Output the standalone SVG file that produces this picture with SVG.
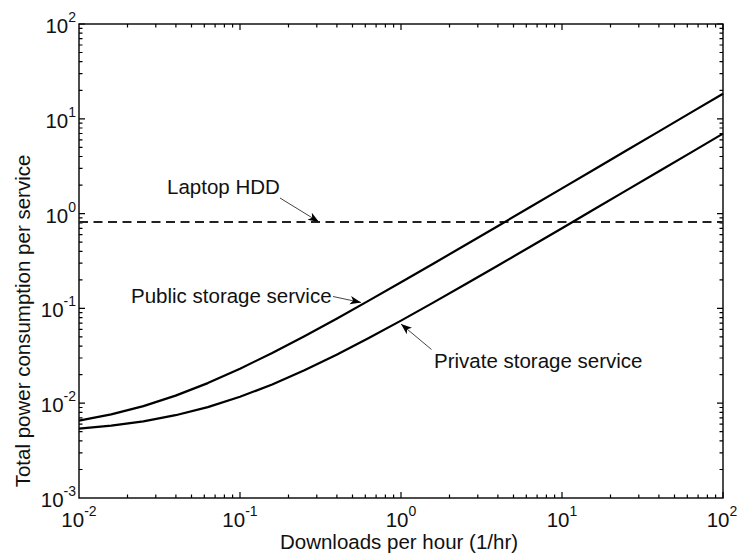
<svg xmlns="http://www.w3.org/2000/svg" xmlns:xlink="http://www.w3.org/1999/xlink" width="744" height="556" viewBox="0 0 744 556">
<style>
text{font-family:"Liberation Sans",Arial,Helvetica,sans-serif;font-size:20.5px;fill:#111}
.sup{font-size:14px}
.tick{stroke:#000;stroke-width:1.2;fill:none}
.axis{stroke:#000;stroke-width:1.4;fill:none}
.curve{stroke:#000;stroke-width:2.2;fill:none;stroke-linejoin:round}
.dash{stroke:#222;stroke-width:2.2;fill:none;stroke-dasharray:9 5.5}
.ann{stroke:#444;stroke-width:1;fill:none}
</style>
<defs>
<marker id="ah" markerWidth="12" markerHeight="10" refX="11" refY="5" orient="auto" markerUnits="userSpaceOnUse">
<path d="M0,0.8 L11,5 L0,9.2 L3,5 Z" fill="#000"/>
</marker>
<path id="xdec" d="M48.5,0v-3.5M76.8,0v-3.5M96.9,0v-3.5M112.5,0v-3.5M125.3,0v-3.5M136.1,0v-3.5M145.4,0v-3.5M153.6,0v-3.5M161,0v-6"/>
<path id="ydec" d="M0,-28.5h3.5M0,-45.2h3.5M0,-57.1h3.5M0,-66.3h3.5M0,-73.8h3.5M0,-80.1h3.5M0,-85.6h3.5M0,-90.5h3.5M0,-94.8h6"/>
</defs>
<rect width="744" height="556" fill="#fff"/>
<g id="axes">
<rect class="axis" x="79" y="24" width="644" height="474"/>
<g class="tick">
<use xlink:href="#xdec" transform="translate(79,498)"/>
<use xlink:href="#xdec" transform="translate(240,498)"/>
<use xlink:href="#xdec" transform="translate(401,498)"/>
<use xlink:href="#xdec" transform="translate(562,498)"/>
<use xlink:href="#xdec" transform="translate(79,24) scale(1,-1)"/>
<use xlink:href="#xdec" transform="translate(240,24) scale(1,-1)"/>
<use xlink:href="#xdec" transform="translate(401,24) scale(1,-1)"/>
<use xlink:href="#xdec" transform="translate(562,24) scale(1,-1)"/>
<use xlink:href="#ydec" transform="translate(79,498)"/>
<use xlink:href="#ydec" transform="translate(79,403.2)"/>
<use xlink:href="#ydec" transform="translate(79,308.4)"/>
<use xlink:href="#ydec" transform="translate(79,213.6)"/>
<use xlink:href="#ydec" transform="translate(79,118.8)"/>
<use xlink:href="#ydec" transform="translate(723,498) scale(-1,1)"/>
<use xlink:href="#ydec" transform="translate(723,403.2) scale(-1,1)"/>
<use xlink:href="#ydec" transform="translate(723,308.4) scale(-1,1)"/>
<use xlink:href="#ydec" transform="translate(723,213.6) scale(-1,1)"/>
<use xlink:href="#ydec" transform="translate(723,118.8) scale(-1,1)"/>
</g>
</g>
<g id="y-tick-labels" text-anchor="end">
<text x="76" y="33">10<tspan class="sup" dy="-11">2</tspan></text>
<text x="76" y="127.8">10<tspan class="sup" dy="-11">1</tspan></text>
<text x="76" y="222.6">10<tspan class="sup" dy="-11">0</tspan></text>
<text x="76" y="317.4">10<tspan class="sup" dy="-11">-1</tspan></text>
<text x="76" y="412.2">10<tspan class="sup" dy="-11">-2</tspan></text>
<text x="76" y="507">10<tspan class="sup" dy="-11">-3</tspan></text>
</g>
<g id="x-tick-labels" text-anchor="middle">
<text x="79" y="527">10<tspan class="sup" dy="-11">-2</tspan></text>
<text x="240" y="527">10<tspan class="sup" dy="-11">-1</tspan></text>
<text x="401" y="527">10<tspan class="sup" dy="-11">0</tspan></text>
<text x="562" y="527">10<tspan class="sup" dy="-11">1</tspan></text>
<text x="722" y="527">10<tspan class="sup" dy="-11">2</tspan></text>
</g>
<g id="axis-labels">
<text x="399" y="549" text-anchor="middle">Downloads per hour (1/hr)</text>
<text transform="translate(30,321) rotate(-90)" text-anchor="middle">Total power consumption per service</text>
</g>
<g id="series">
<path id="laptop-hdd" class="dash" d="M79,222H723"/>
<path id="public-storage" class="curve" d="M79,420.7L111.2,414.4L143.4,406.1L175.6,395.6L207.8,383.1L240,368.7L272.2,353.0L304.4,336.2L336.6,318.7L368.8,300.6L401,282.3L433.2,263.7L465.4,245.0L497.6,226.2L529.8,207.3L562,188.4L594.2,169.5L626.4,150.5L658.6,131.6L690.8,112.6L723,93.7"/>
<path id="private-storage" class="curve" d="M79,428.6L111.2,425.6L143.4,421.3L175.6,415.2L207.8,407.1L240,396.8L272.2,384.5L304.4,370.3L336.6,354.7L368.8,338.0L401,320.6L433.2,302.6L465.4,284.2L497.6,265.7L529.8,247.0L562,228.2L594.2,209.3L626.4,190.4L658.6,171.5L690.8,152.6L723,133.6"/>
</g>
<g id="annotations">
<g id="label-laptop">
<text x="167" y="194">Laptop HDD</text>
</g>
<g id="label-public">
<text x="131" y="303">Public storage service</text>
</g>
<g id="label-private">
<text x="434" y="368">Private storage service</text>
</g>
<g id="connectors">
<path class="ann" d="M280,198L319,222" marker-end="url(#ah)"/>
<path class="ann" d="M333,296.5L361,302.5" marker-end="url(#ah)"/>
<path class="ann" d="M431.5,349.5L401,324" marker-end="url(#ah)"/>
</g>
</g>
</svg>
